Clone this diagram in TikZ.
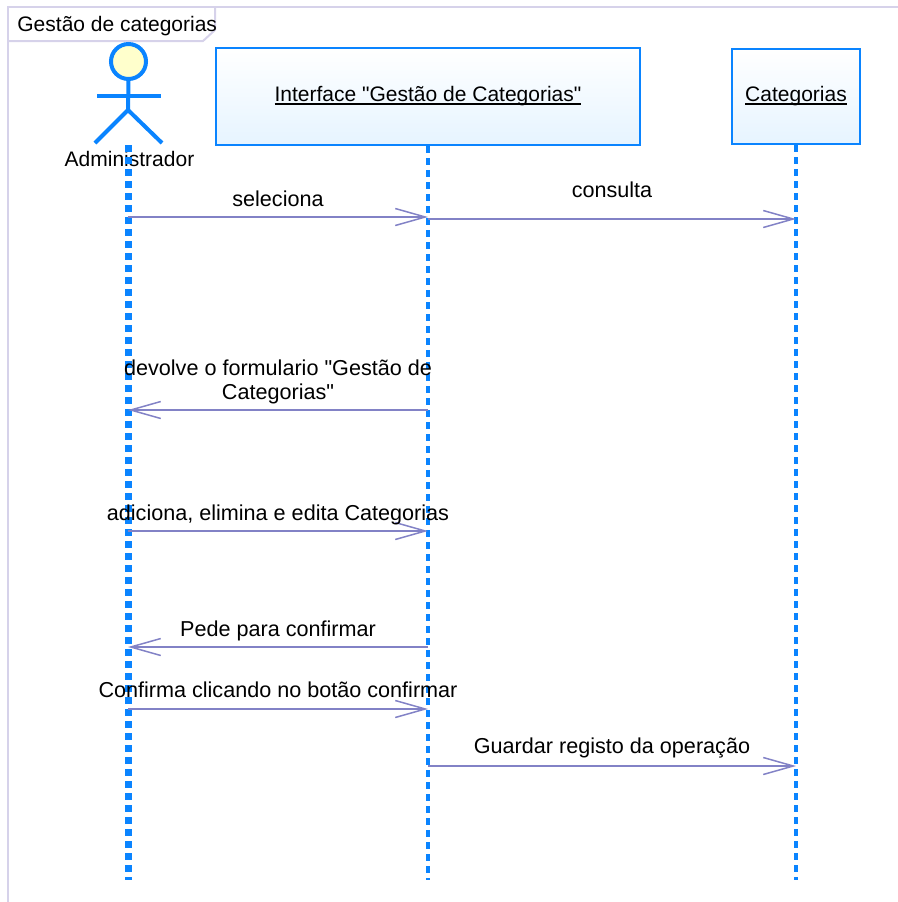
\documentclass[tikz,border=0pt]{standalone}
\usepackage{fontspec}
\setmainfont[Ligatures=TeXOff]{Liberation Sans}
\usepackage{xcolor}
\usepackage{tikz}
\usetikzlibrary{arrows.meta}
\usetikzlibrary{calc}
\usetikzlibrary{shapes,positioning}
\definecolor{lifeBlue}{HTML}{0A84FF}
\definecolor{headBlue}{HTML}{E6F4FF}
\definecolor{headYellow}{HTML}{FFFFCC}
\definecolor{msgPurple}{HTML}{8282C6}
\definecolor{frameLavender}{HTML}{D6D2EA}
\tikzset{frame-line/.style={draw=frameLavender, line width=1pt}}
\tikzset{lifeline-head/.style={draw=lifeBlue, line width=1pt, top color=white, bottom color=headBlue, inner sep=0}}
\tikzset{actor-line/.style={draw=lifeBlue, line width=2pt}}
\tikzset{actor-head/.style={actor-line, circle, fill=headYellow, minimum size=17.5pt, inner sep=0}}
\tikzset{actor-lifeline/.style={draw=lifeBlue, line width=3.5pt, dash pattern=on 3.5pt off 2.5pt}}
\tikzset{object-lifeline/.style={draw=lifeBlue, line width=2pt, dash pattern=on 3.5pt off 2.5pt}}
\tikzset{msg-line/.style={draw=msgPurple, line width=0.75pt, -{Straight Barb[length=15pt, width=8.5pt]}}}
\tikzset{msg-label/.style={inner sep=0, text depth=0pt, align=center, font=\fontsize{10.8pt}{12pt}\selectfont}}
\newcommand{\ultext}[1]{\setbox0=\hbox{#1}\rlap{\rule[-1.3pt]{\wd0}{0.6pt}}\box0}
\newcommand{\seqmsg}[6] {
    \coordinate (#1-y) at (0,#4);
    \coordinate (#1-from) at (#2 |- #1-y);
    \coordinate (#1-to) at (#3 |- #1-y);
    \coordinate (#1-mid) at ($(#1-from)!0.5!(#1-to)$);
    \draw[msg-line] (#1-from) -- (#1-to);
    \node[msg-label, above=#6 of #1-mid] (#1-label) {#5};
}
\begin{document}
\begin{tikzpicture}[x=0.5pt, y=-0.5pt, font=\fontsize{10.5pt}{12pt}\selectfont]
    \useasboundingbox (0,0) rectangle (898,902);
    % frame
    \draw[frame-line] (8,902) -- (8,7) -- (898,7);
    \draw[frame-line] (215,7) -- (215,30) -- (203,41) -- (8,41);
    \node[anchor=base west, inner sep=0] (framelabel) at (17,31) {Gestão de categorias};

    % actor
    \node[actor-head] (adminhead) at (128.5,61.5) {};
    \coordinate (adminhip) at (128,110);
    \draw[actor-line] (adminhead.south) -- (adminhip);
    \draw[actor-line] (97,96) -- (161,96);
    \draw[actor-line] (95,143) -- (adminhip) -- (162,143);
    \node[anchor=base, inner sep=0] (adminlabel) at (129.5,166) {Administrador};

    % objects
    \node[lifeline-head, minimum width=212pt, minimum height=48.5pt] (iface) at (428,96.5) {\ultext{Interface "Gestão de Categorias"}};
    \node[lifeline-head, minimum width=64pt, minimum height=47.5pt, right=45pt of iface] (cat) {\ultext{Categorias}};

    % lifelines
    \coordinate (bottom) at (0,880);
    \coordinate (admin) at (128,145);
    \draw[actor-lifeline] (admin) -- (admin |- bottom);
    \draw[object-lifeline] (iface.south) -- (iface.south |- bottom);
    \draw[object-lifeline] (cat.south) -- (cat.south |- bottom);

    % messages
    \seqmsg{m1}{admin}{iface.south}{217}{seleciona}{5pt}
    \seqmsg{m2}{iface.south}{cat.south}{219}{consulta}{10.5pt}
    \seqmsg{m3}{iface.south}{admin}{410}{devolve o formulario "Gestão de\\Categorias"}{5pt}
    \seqmsg{m4}{admin}{iface.south}{531}{adiciona, elimina e edita Categorias}{5pt}
    \seqmsg{m5}{iface.south}{admin}{647}{Pede para confirmar}{5pt}
    \seqmsg{m6}{admin}{iface.south}{709}{Confirma clicando no botão confirmar}{5.5pt}
    \seqmsg{m7}{iface.south}{cat.south}{766}{Guardar registo da operação}{6pt}
\end{tikzpicture}
\end{document}
